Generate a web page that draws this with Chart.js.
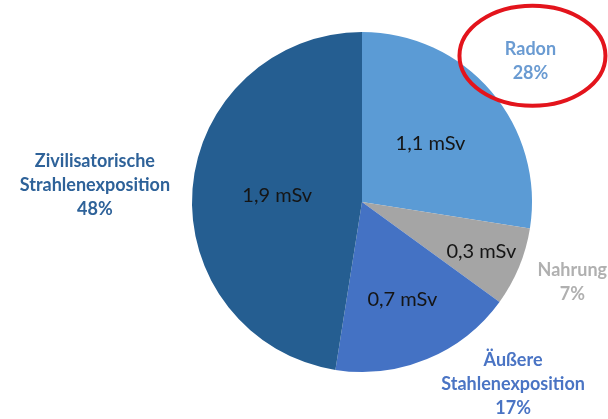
<!DOCTYPE html>
<html>
<head>
<meta charset="utf-8">
<script src="https://cdn.jsdelivr.net/npm/chart.js@4"></script>
<style>
  body { margin: 0; background: #fff; }
  canvas { display: block; }
</style>
</head>
<body>
<canvas id="myChart" width="608" height="419"></canvas>
<script>
// data
const categories = ["Radon", "Nahrung", "Äußere Stahlenexposition", "Zivilisatorische Strahlenexposition"];
const doseValues = [1.1, 0.3, 0.7, 1.9]; // mSv
const percentLabels = ["28%", "7%", "17%", "48%"];

const sliceColors = ["#5b9bd5", "#a5a5a5", "#4472c4", "#255e91"];
const nameColors = ["#6a9bd2", "#b0b0b0", "#4a74c4", "#2e6299"];
// label text lines outside the pie
const nameLines = [["Radon"], ["Nahrung"], ["Äußere", "Stahlenexposition"], ["Zivilisatorische", "Strahlenexposition"]];
// inside label radius (fraction of R), outside label anchor {k, dx, dy}
const innerK = [0.53, 0.76, 0.62, 0.5];
const outer = [
  { k: 1.28, dx: 3, dy: 1 },
  { k: 1.32, dx: 3, dy: -6 },
  { k: 1.2, dx: 73, dy: -6 },
  { k: 1.57, dx: -1, dy: 4 },
];

const labelPlugin = {
  id: "labels",
  afterDraw(chart) {
    const c = chart.ctx;
    const arcs = chart.getDatasetMeta(0).data;
    c.save();
    c.textAlign = "center";
    c.textBaseline = "middle";
    arcs.forEach((arc, i) => {
      const mid = (arc.startAngle + arc.endAngle) / 2;
      const R = arc.outerRadius;
      // value inside the slice
      c.fillStyle = "#151515";
      c.font = "20px Lato, sans-serif";
      const v = doseValues[i].toFixed(1).replace(".", ",") + " mSv";
      c.fillText(v, arc.x + Math.cos(mid) * R * innerK[i], arc.y + Math.sin(mid) * R * innerK[i]);

      // name + percent outside
      const o = outer[i];
      const cx = arc.x + Math.cos(mid) * R * o.k + o.dx;
      const cy = arc.y + Math.sin(mid) * R * o.k + o.dy;
      const lines = nameLines[i].concat([percentLabels[i]]);
      const lh = 24;
      c.fillStyle = nameColors[i];
      c.font = "bold 18px Lato, sans-serif";
      lines.forEach((t, j) => {
        c.fillText(t, cx, cy + (j - (lines.length - 1) / 2) * lh);
      });

      // red ring round the Radon label
      if (i === 0) {
        c.beginPath();
        c.ellipse(cx + 2, cy - 6, 73, 50, 0, 0, Math.PI * 2);
        c.strokeStyle = "#e3141c";
        c.lineWidth = 4;
        c.stroke();
      }
    });
    c.restore();
  },
};

const ctx = document.getElementById("myChart");
new Chart(ctx, {
  type: "pie",
  data: {
    labels: categories,
    datasets: [
      {
        data: doseValues,
        backgroundColor: sliceColors,
        borderWidth: 0,
      },
    ],
  },
  options: {
    responsive: false,
    animation: false,
    devicePixelRatio: 1,
    layout: { padding: { left: 192, right: 76, top: 32, bottom: 47 } },
    plugins: {
      legend: { display: false },
      tooltip: { enabled: false },
    },
  },
  plugins: [labelPlugin],
});
</script>
</body>
</html>
